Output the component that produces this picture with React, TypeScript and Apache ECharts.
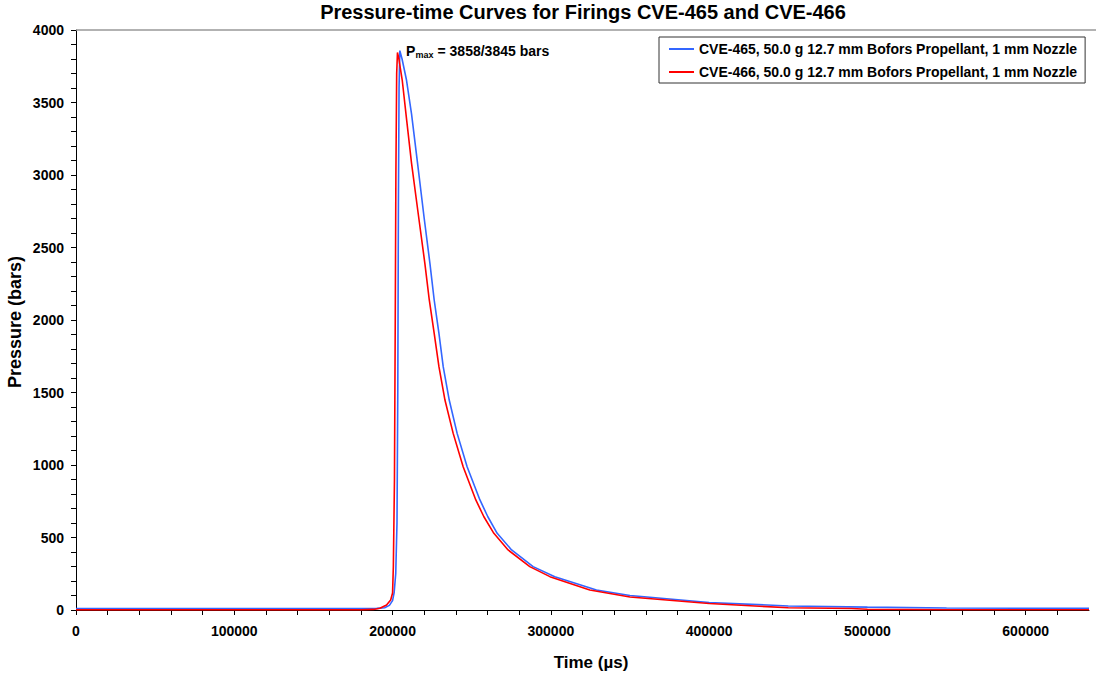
import React, { useEffect, useRef } from 'react';
import * as echarts from 'echarts';

const TITLE = 'Pressure-time Curves for Firings CVE-465 and CVE-466';
const X_NAME = 'Time (µs)';
const Y_NAME = 'Pressure (bars)';
const SERIES_NAMES = [
  'CVE-465, 50.0 g 12.7 mm Bofors Propellant, 1 mm Nozzle',
  'CVE-466, 50.0 g 12.7 mm Bofors Propellant, 1 mm Nozzle',
];
const SERIES_COLORS = ['#3366FF', '#FF0000'];
const PMAX_P = 'P';
const PMAX_SUB = 'max';
const PMAX_REST = '= 3858/3845 bars';

const X_MIN = 0;
const X_MAX = 640000;
const X_TICK = 20000;
const X_LABEL_STEP = 100000;
const Y_MIN = 0;
const Y_MAX = 4000;
const Y_TICK = 100;
const Y_LABEL_STEP = 500;

// CVE-465 (blue)
const cve465Time = [
  0, 100000, 180000, 190000, 195000, 198000, 200000, 201000, 202000, 202800,
  203300, 203700, 204100, 204600, 206000, 208800, 212000, 215800, 220000, 223600,
  226300, 229300, 232000, 235800, 240800, 247100, 255200, 260200, 266100, 275200,
  288800, 302500, 328800, 350000, 400000, 450000, 500000, 550000, 600000, 640000,
];
const cve465Pressure = [
  10, 10, 10, 11, 16, 32, 65, 120, 250, 600,
  1500, 2800, 3600, 3858, 3800, 3655, 3420, 3080, 2700, 2391,
  2138, 1908, 1678, 1448, 1218, 988, 759, 643, 529, 414,
  299, 230, 138, 100, 52, 28, 20, 14, 12, 12,
];

// CVE-466 (red)
const cve466Time = [
  0, 180000, 188000, 192000, 196200, 198800, 200000, 200500, 201200, 201700,
  202100, 202600, 203100, 204000, 206100, 209000, 212000, 216000, 220400, 223200,
  226300, 229300, 233100, 238300, 244600, 252600, 257700, 264000, 273000, 286700,
  299400, 324600, 350000, 400000, 450000, 490000, 500000, 550000, 600000, 640000,
];
const cve466Pressure = [
  1, 1, 4, 12, 34, 69, 117, 300, 900, 2000,
  3000, 3700, 3845, 3800, 3655, 3370, 3080, 2750, 2391, 2138,
  1908, 1678, 1448, 1218, 988, 759, 643, 529, 414, 299,
  230, 138, 90, 45, 15, 10, 5, 2, 2, 2,
];

const FONT = '"Liberation Sans", Arial, Helvetica, sans-serif';

export default function App() {
  const ref = useRef<HTMLDivElement>(null);
  useEffect(() => {
    if (!ref.current) return;
    const chart = echarts.init(ref.current, undefined, { renderer: 'svg' });
    const d465 = cve465Time.map((t, i) => [t, cve465Pressure[i]]);
    const d466 = cve466Time.map((t, i) => [t, cve466Pressure[i]]);
    chart.setOption({
      animation: false,
      backgroundColor: '#fff',
      textStyle: { fontFamily: FONT },
      grid: { left: 76, right: 7, top: 30, bottom: 65, containLabel: false },
      title: {
        text: TITLE,
        left: 583,
        top: 2,
        padding: 0,
        textAlign: 'center',
        textStyle: { fontFamily: FONT, fontWeight: 'bold', fontSize: 20, color: '#000' },
      },
      legend: {
        orient: 'vertical',
        left: 659,
        top: 37,
        padding: [5, 8, 4, 10],
        itemGap: 9,
        itemWidth: 25,
        itemHeight: 2,
        icon: 'rect',
        borderColor: '#333',
        borderWidth: 1,
        backgroundColor: '#fff',
        textStyle: { fontFamily: FONT, fontWeight: 'bold', fontSize: 14, color: '#000', lineHeight: 14 },
        data: SERIES_NAMES,
      },
      xAxis: {
        type: 'value',
        min: X_MIN,
        max: X_MAX,
        interval: X_TICK,
        axisLine: { show: true, onZero: false, lineStyle: { color: '#000', width: 1 } },
        axisTick: { show: true, length: 5, lineStyle: { color: '#000', width: 1 } },
        splitLine: { show: false },
        axisLabel: {
          margin: 14,
          color: '#000',
          fontFamily: FONT,
          fontWeight: 'bold',
          fontSize: 14,
          formatter: (v: number) => (v % X_LABEL_STEP === 0 ? String(v) : ''),
          showMaxLabel: false,
        },
      },
      yAxis: {
        type: 'value',
        min: Y_MIN,
        max: Y_MAX,
        interval: Y_TICK,
        axisLine: { show: true, onZero: false, lineStyle: { color: '#000', width: 1 } },
        axisTick: { show: true, length: 5, lineStyle: { color: '#000', width: 1 } },
        splitLine: { show: false },
        axisLabel: {
          margin: 12,
          color: '#000',
          fontFamily: FONT,
          fontWeight: 'bold',
          fontSize: 14,
          formatter: (v: number) => (v % Y_LABEL_STEP === 0 ? String(v) : ''),
        },
      },
      graphic: [
        {
          type: 'line',
          shape: { x1: 76, y1: 30, x2: 1096, y2: 30 },
          style: { stroke: '#999', lineWidth: 1.5 },
          z: 1,
        },
        {
          type: 'text',
          x: 15,
          y: 322,
          rotation: Math.PI / 2,
          style: {
            text: Y_NAME,
            align: 'center',
            verticalAlign: 'middle',
            font: `bold 18px ${FONT}`,
            fill: '#000',
          },
        },
        {
          type: 'text',
          x: 591,
          y: 662,
          style: {
            text: X_NAME,
            align: 'center',
            verticalAlign: 'middle',
            font: `bold 17px ${FONT}`,
            fill: '#000',
          },
        },
        {
          type: 'text',
          x: 406,
          y: 51,
          style: { text: PMAX_P, align: 'left', verticalAlign: 'middle', font: `bold 14px ${FONT}`, fill: '#000' },
        },
        {
          type: 'text',
          x: 415.5,
          y: 55,
          style: { text: PMAX_SUB, align: 'left', verticalAlign: 'middle', font: `bold 9px ${FONT}`, fill: '#000' },
        },
        {
          type: 'text',
          x: 437.5,
          y: 51,
          style: { text: PMAX_REST, align: 'left', verticalAlign: 'middle', font: `bold 14px ${FONT}`, fill: '#000' },
        },
      ],
      series: [
        {
          name: SERIES_NAMES[0],
          type: 'line',
          data: d465,
          showSymbol: false,
          symbol: 'none',
          color: SERIES_COLORS[0],
          lineStyle: { color: SERIES_COLORS[0], width: 1.6 },
          z: 2,
        },
        {
          name: SERIES_NAMES[1],
          type: 'line',
          data: d466,
          showSymbol: false,
          symbol: 'none',
          color: SERIES_COLORS[1],
          lineStyle: { color: SERIES_COLORS[1], width: 1.6 },
          z: 3,
        },
      ],
    });
    return () => chart.dispose();
  }, []);
  return <div ref={ref} style={{ position: 'absolute', left: 0, top: 0, width: 1096, height: 675 }} />;
}
